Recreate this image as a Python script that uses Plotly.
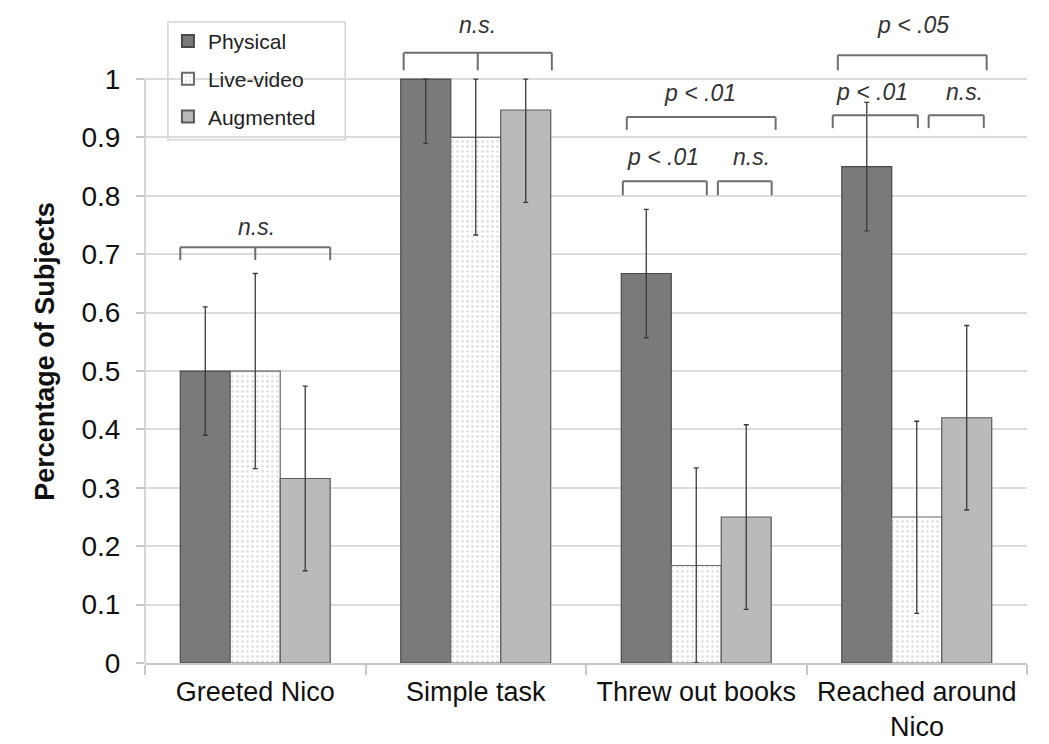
import plotly.graph_objects as go

# ---- data ----
categories = ["Greeted Nico", "Simple task", "Threw out books", "Reached around Nico"]
tick_labels = ["Greeted Nico", "Simple task", "Threw out books", "Reached around"]
tick_label_second_line = "Nico"
series_names = ["Physical", "Live-video", "Augmented"]

physical = [0.5, 1.0, 0.667, 0.85]
physical_err_plus = [0.11, 0.0, 0.11, 0.11]
physical_err_minus = [0.11, 0.11, 0.11, 0.11]

live_video = [0.5, 0.9, 0.167, 0.25]
live_err_plus = [0.167, 0.1, 0.167, 0.164]
live_err_minus = [0.167, 0.167, 0.167, 0.165]

augmented = [0.316, 0.947, 0.25, 0.42]
aug_err_plus = [0.158, 0.053, 0.158, 0.158]
aug_err_minus = [0.158, 0.158, 0.158, 0.158]

y_ticks = [0, 0.1, 0.2, 0.3, 0.4, 0.5, 0.6, 0.7, 0.8, 0.9, 1]
y_tick_labels = ["0", "0.1", "0.2", "0.3", "0.4", "0.5", "0.6", "0.7", "0.8", "0.9", "1"]

sig_labels = ["n.s.", "n.s.", "p < .01", "p < .01", "n.s.", "p < .05", "p < .01", "n.s."]

# ---- layout helpers (positions / styles) ----
FONT = "Liberation Sans, Arial, Helvetica, sans-serif"
# bracket: (category index, left offset, right offset, top y, bottom y, middle tick)
brackets = [
    (0, -0.34, 0.34, 0.712, 0.690, True),
    (1, -0.327, 0.345, 1.045, 1.015, True),
    (2, -0.315, 0.36, 0.935, 0.913, False),
    (2, -0.333, 0.048, 0.825, 0.801, False),
    (2, 0.098, 0.342, 0.825, 0.801, False),
    (3, -0.358, 0.317, 1.041, 1.015, False),
    (3, -0.381, 0.005, 0.938, 0.916, False),
    (3, 0.054, 0.304, 0.938, 0.916, False),
]
# label positions: (category index, x offset, y)
label_pos = [
    (0, 0.005, 0.747),
    (1, 0.01, 1.092),
    (2, 0.015, 0.976),
    (2, -0.153, 0.866),
    (2, 0.25, 0.866),
    (3, -0.018, 1.092),
    (3, -0.204, 0.978),
    (3, 0.217, 0.978),
]

fig = go.Figure()

err_style = dict(type="data", symmetric=False, color="#3a3a3a", thickness=1.3, width=2.5)

fig.add_trace(go.Bar(
    name=series_names[0], x=categories, y=physical, legendgroup="a",
    marker=dict(color="#7a7a7a", line=dict(color="#4a4a4a", width=1.2)),
    error_y=dict(array=physical_err_plus, arrayminus=physical_err_minus, **err_style),
))
fig.add_trace(go.Bar(
    name=series_names[1], x=categories, y=live_video, legendgroup="b",
    marker=dict(color="white", line=dict(color="#6a6a6a", width=1.2),
                pattern=dict(shape=".", fgcolor="#c4c4c4", bgcolor="white", size=5, solidity=0.25)),
    error_y=dict(array=live_err_plus, arrayminus=live_err_minus, **err_style),
))
fig.add_trace(go.Bar(
    name=series_names[2], x=categories, y=augmented, legendgroup="c",
    marker=dict(color="#bababa", line=dict(color="#5a5a5a", width=1.2)),
    error_y=dict(array=aug_err_plus, arrayminus=aug_err_minus, **err_style),
))

shapes = []
line_style = dict(color="#6e6e6e", width=2)
for ci, lo, ro, yt, yb, mid in brackets:
    x0, x1 = ci + lo, ci + ro
    shapes.append(dict(type="line", xref="x", yref="y", x0=x0, x1=x1, y0=yt, y1=yt, line=line_style))
    shapes.append(dict(type="line", xref="x", yref="y", x0=x0, x1=x0, y0=yt, y1=yb, line=line_style))
    shapes.append(dict(type="line", xref="x", yref="y", x0=x1, x1=x1, y0=yt, y1=yb, line=line_style))
    if mid:
        xm = (x0 + x1) / 2
        shapes.append(dict(type="line", xref="x", yref="y", x0=xm, x1=xm, y0=yt, y1=yb, line=line_style))

# y axis line only over 0..1
shapes.append(dict(type="line", xref="paper", yref="y", x0=0, x1=0, y0=0, y1=1,
                   line=dict(color="#c8c8c8", width=1.5)))
# legend frame
shapes.append(dict(type="rect", xref="paper", yref="paper", x0=0.026, x1=0.227, y0=0.80, y1=0.980,
                   line=dict(color="#d4d4d4", width=1.5), fillcolor="rgba(0,0,0,0)", layer="above"))

annotations = []
for (ci, xo, yy), txt in zip(label_pos, sig_labels):
    annotations.append(dict(x=ci + xo, y=yy, xref="x", yref="y", text=txt, showarrow=False,
                            font=dict(family=FONT, size=23, color="#333333", style="italic"),
                            xanchor="center", yanchor="middle"))
annotations.append(dict(x=0, y=0.533, xref="paper", yref="y", text="<b>Percentage of Subjects</b>",
                        textangle=-90, showarrow=False, xshift=-100,
                        font=dict(family=FONT, size=27, color="#111111"),
                        xanchor="center", yanchor="middle"))
# second line of the last category label
annotations.append(dict(x=3, y=0, xref="x", yref="paper", text=tick_label_second_line,
                        showarrow=False, yshift=-64, xanchor="center", yanchor="middle",
                        font=dict(family=FONT, size=27, color="#111111")))

fig.update_layout(
    width=1041, height=736,
    margin=dict(l=137, r=22, t=1, b=81, autoexpand=False),
    paper_bgcolor="white", plot_bgcolor="white",
    barmode="group", bargap=0.32, bargroupgap=0,
    font=dict(family=FONT, color="#222222"),
    showlegend=True,
    legend=dict(x=0.026, y=0.982, xanchor="left", yanchor="top",
                bgcolor="rgba(0,0,0,0)", borderwidth=0,
                font=dict(family=FONT, size=21, color="#222222"),
                traceorder="grouped", tracegroupgap=7.5, itemsizing="constant"),
    shapes=shapes, annotations=annotations,
)
fig.update_xaxes(
    type="category", showline=True, linecolor="#c8c8c8", linewidth=1.5,
    ticks="outside", tickson="boundaries", ticklen=10, tickcolor="#c8c8c8", tickwidth=1.5,
    showgrid=False, tickangle=0, automargin=False, ticklabelstandoff=4,
    tickmode="array", tickvals=categories, ticktext=tick_labels,
    tickfont=dict(family=FONT, size=27, color="#111111"),
)
fig.update_yaxes(
    range=[0, 1.12], tickvals=y_ticks, ticktext=y_tick_labels, automargin=False,
    showline=False, ticks="outside", ticklen=8, tickcolor="#c8c8c8", tickwidth=1.5,
    showgrid=True, gridcolor="#dcdcdc", gridwidth=2, zeroline=False, ticklabelstandoff=10,
    tickfont=dict(family=FONT, size=28, color="#111111"),
)

fig.write_html("out.html")
